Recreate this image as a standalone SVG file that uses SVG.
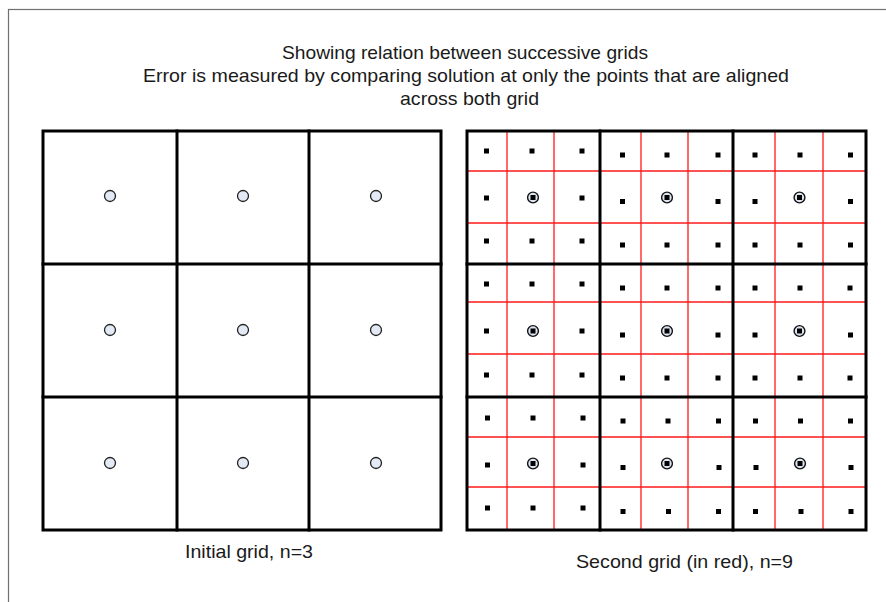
<svg xmlns="http://www.w3.org/2000/svg" xmlns:xlink="http://www.w3.org/1999/xlink" width="886" height="602" viewBox="0 0 886 602">
<style>
.t{font-family:"Liberation Sans",Arial,sans-serif;font-size:19px;fill:#1a1a1a;text-anchor:start}
.thick{stroke:#000;stroke-width:3;fill:none;stroke-linecap:square}
.red{stroke:#ff1a1a;stroke-width:1.3;fill:none}
.frame{stroke:#707070;stroke-width:1.2;fill:#fff}
</style>
<defs>
<rect id="dot" x="-2.5" y="-2.5" width="5" height="5" fill="#000"/>
<g id="ring"><circle r="5.4" fill="#dde5f3" stroke="#111" stroke-width="1.4"/><rect x="-2.5" y="-2.5" width="5" height="5" fill="#000"/></g>
<circle id="pt" r="5.5" fill="#e3e9f5" stroke="#222" stroke-width="1.3"/>
</defs>
<rect x="0" y="0" width="886" height="602" fill="#fff"/>
<rect class="frame" x="8.5" y="9.5" width="900" height="700"/>
<g id="title">
<text class="t" x="282" y="58.5" textLength="366" lengthAdjust="spacingAndGlyphs">Showing relation between successive grids</text>
<text class="t" x="143" y="81.7" textLength="646" lengthAdjust="spacingAndGlyphs">Error is measured by comparing solution at only the points that are aligned</text>
<text class="t" x="400" y="105" textLength="139" lengthAdjust="spacingAndGlyphs">across both grid</text>
</g>
<g id="grid-initial">
<rect class="thick" x="43" y="131" width="398" height="399"/>
<path class="thick" d="M177 131V530M309 131V530M43 264H441M43 397H441"/>
<use href="#pt" x="110" y="196"/><use href="#pt" x="243" y="196"/><use href="#pt" x="376" y="196"/>
<use href="#pt" x="110" y="330"/><use href="#pt" x="243" y="330"/><use href="#pt" x="376" y="330"/>
<use href="#pt" x="110" y="463"/><use href="#pt" x="243" y="463"/><use href="#pt" x="376" y="463"/>
</g>
<g id="label-initial"><text class="t" x="185" y="558" textLength="128" lengthAdjust="spacingAndGlyphs">Initial grid, n=3</text></g>
<g id="grid-second">
<path class="red" d="M507 131V530M554 131V530M641 131V530M688 131V530M775 131V530M823 131V530M467 171H866M467 223H866M467 302H866M467 354H866M467 437H866M467 487H866"/>
<rect class="thick" x="467" y="131" width="399" height="399"/>
<path class="thick" d="M600 131V530M733 131V530M467 264H866M467 397H866"/>
<g id="dots-a">
<use href="#dot" x="486.5" y="151"/><use href="#dot" x="532" y="151"/><use href="#dot" x="582" y="151"/>
<use href="#dot" x="486.5" y="198"/><use href="#dot" x="582" y="198"/>
<use href="#dot" x="486.5" y="241"/><use href="#dot" x="532" y="241"/><use href="#dot" x="582" y="241"/>
<use href="#dot" x="486.5" y="284"/><use href="#dot" x="532" y="284"/><use href="#dot" x="582" y="284"/>
<use href="#dot" x="486.5" y="331"/><use href="#dot" x="582" y="331"/>
<use href="#dot" x="486.5" y="375"/><use href="#dot" x="532" y="375"/><use href="#dot" x="582" y="375"/>
<use href="#dot" x="487.5" y="418"/><use href="#dot" x="533" y="418"/><use href="#dot" x="583" y="418"/>
<use href="#dot" x="487.5" y="465"/><use href="#dot" x="583" y="465"/>
<use href="#dot" x="487.5" y="508"/><use href="#dot" x="533" y="508"/><use href="#dot" x="583" y="508"/>
</g>
<g id="dots-bc">
<use href="#dot" x="622.5" y="155"/><use href="#dot" x="667" y="155"/><use href="#dot" x="718" y="155"/><use href="#dot" x="755" y="155"/><use href="#dot" x="800" y="155"/><use href="#dot" x="850.5" y="155"/>
<use href="#dot" x="622.5" y="201.5"/><use href="#dot" x="718" y="201.5"/><use href="#dot" x="755" y="201.5"/><use href="#dot" x="850.5" y="201.5"/>
<use href="#dot" x="622.5" y="245"/><use href="#dot" x="667" y="245"/><use href="#dot" x="718" y="245"/><use href="#dot" x="755" y="245"/><use href="#dot" x="800" y="245"/><use href="#dot" x="850.5" y="245"/>
<use href="#dot" x="622.5" y="288"/><use href="#dot" x="667" y="288"/><use href="#dot" x="718" y="288"/><use href="#dot" x="755" y="288"/><use href="#dot" x="800" y="288"/><use href="#dot" x="850" y="288"/>
<use href="#dot" x="622.5" y="335"/><use href="#dot" x="718" y="335"/><use href="#dot" x="755" y="335"/><use href="#dot" x="850.5" y="335"/>
<use href="#dot" x="622.5" y="378"/><use href="#dot" x="667" y="378"/><use href="#dot" x="718" y="378"/><use href="#dot" x="755" y="378"/><use href="#dot" x="800" y="378"/><use href="#dot" x="850" y="378"/>
<use href="#dot" x="623" y="421"/><use href="#dot" x="668" y="421"/><use href="#dot" x="718.5" y="421"/><use href="#dot" x="755.5" y="421"/><use href="#dot" x="800.5" y="421"/><use href="#dot" x="850.5" y="421"/>
<use href="#dot" x="623" y="467.5"/><use href="#dot" x="719" y="467.5"/><use href="#dot" x="756" y="467.5"/><use href="#dot" x="851" y="467.5"/>
<use href="#dot" x="623" y="511.5"/><use href="#dot" x="668.5" y="511.5"/><use href="#dot" x="718.5" y="511.5"/><use href="#dot" x="755.5" y="511.5"/><use href="#dot" x="801" y="511.5"/><use href="#dot" x="851" y="511.5"/>
</g>
<g id="aligned-points">
<use href="#ring" x="533" y="197.5"/><use href="#ring" x="667" y="197.5"/><use href="#ring" x="799.5" y="197.5"/>
<use href="#ring" x="533" y="331"/><use href="#ring" x="667" y="331"/><use href="#ring" x="799.5" y="331"/>
<use href="#ring" x="533" y="463.5"/><use href="#ring" x="667" y="463.5"/><use href="#ring" x="800" y="463.5"/>
</g>
</g>
<g id="label-second"><text class="t" x="576" y="568.3" textLength="217" lengthAdjust="spacingAndGlyphs">Second grid (in red), n=9</text></g>
</svg>
